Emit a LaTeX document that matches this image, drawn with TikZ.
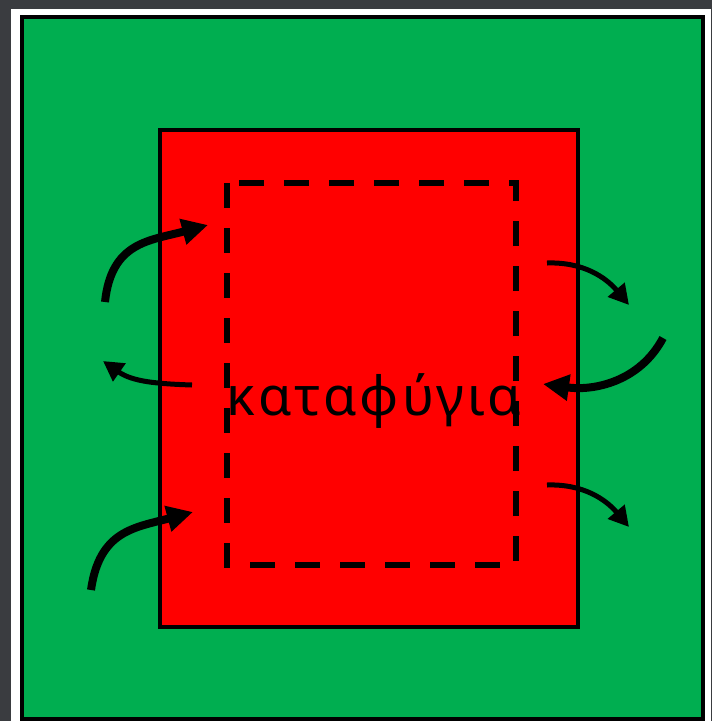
\documentclass[tikz,border=0pt]{standalone}
\usepackage{fontspec}
\newfontfamily\greekfont[LetterSpace=6]{Noto Sans}
\usetikzlibrary{arrows.meta}
\definecolor{bggray}{HTML}{3A3C40}
\definecolor{zonegreen}{HTML}{00AE50}
\definecolor{zonered}{HTML}{FF0000}
\tikzset{
  thickarrow/.style={line width=8pt, -{Triangle[length=26pt,width=25pt]}},
  thinarrow/.style={line width=5pt, -{Triangle[length=20pt,width=21pt]}},
  zone/.style={draw=black, line width=4pt},
}
\begin{document}
\begin{tikzpicture}[x=1pt,y=1pt]
\useasboundingbox (0,0) rectangle (712,-721);
\fill[bggray] (0,0) rectangle (712,-721);
\fill[white] (11,-9) rectangle (711,-724);
\path[zone, fill=zonegreen] (22,-17) rectangle (703,-719);
\path[zone, fill=zonered] (160,-130) rectangle (578,-627);
\draw[line width=6pt, dash pattern=on 25pt off 20pt] (227,-183) rectangle (516,-565);
\node[font=\greekfont\fontsize{54}{54}\selectfont, text=black, anchor=base, inner sep=0pt] (label) at (374,-415) {καταφύγια};
% left arrows
\coordinate (a1s) at (105,-302);
\coordinate (a1e) at (208,-225);
\coordinate (a2s) at (192,-385);
\coordinate (a2e) at (103,-361);
\coordinate (a3s) at (91,-590);
\coordinate (a3e) at (193,-512);
% right arrows
\coordinate (a4s) at (547,-263);
\coordinate (a4e) at (629,-305);
\coordinate (a5s) at (663,-338);
\coordinate (a5e) at (543,-384);
\coordinate (a6s) at (547,-485);
\coordinate (a6e) at (629,-527);
\draw[thickarrow] (a1s) to[out=84,in=195,looseness=1.2] (a1e);
\draw[thinarrow] (a2s) to[out=178,in=-35] (a2e);
\draw[thickarrow] (a3s) to[out=82,in=195,looseness=1.2] (a3e);
\draw[thinarrow] (a4s) to[out=2,in=130] (a4e);
\draw[thickarrow] (a5s) to[out=242,in=-8] (a5e);
\draw[thinarrow] (a6s) to[out=2,in=130] (a6e);
\end{tikzpicture}
\end{document}
